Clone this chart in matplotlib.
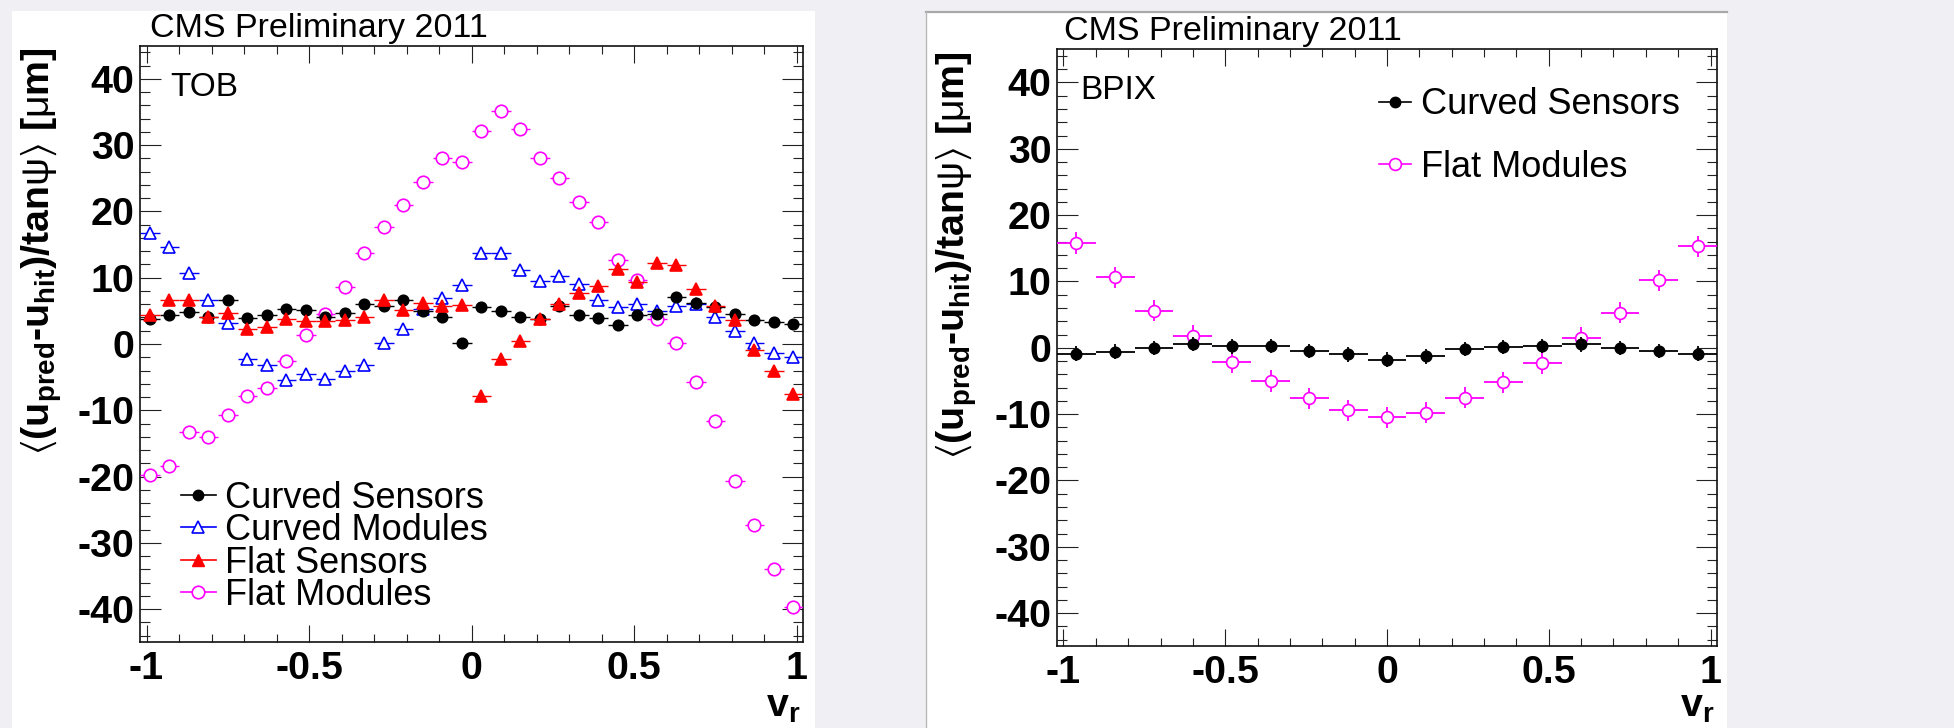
import numpy as np
import matplotlib
matplotlib.use('Agg')
import matplotlib.pyplot as plt
from matplotlib.lines import Line2D
from matplotlib.patches import Rectangle
from matplotlib.ticker import MultipleLocator, FixedLocator, FuncFormatter

plt.rcParams['font.family'] = ['Liberation Sans', 'DejaVu Sans']
plt.rcParams['axes.unicode_minus'] = False
plt.rcParams['mathtext.fontset'] = 'custom'
plt.rcParams['mathtext.rm'] = 'Liberation Sans:bold'
plt.rcParams['mathtext.bf'] = 'Liberation Sans:bold'
plt.rcParams['mathtext.it'] = 'Liberation Sans'
plt.rcParams['mathtext.sf'] = 'Liberation Sans:bold'
plt.rcParams['mathtext.fallback'] = 'stixsans'

# ---------------- data ----------------
# TOB: 34 bins of width 0.06 over [-1.02, 1.02]
tob_bins = np.linspace(-0.99, 0.99, 34)
tob_halfwidth = 0.03
tob_curved_sensors = [3.8, 4.3, 4.8, 4.0, 6.7, 3.9, 4.4, 5.3, 5.1, 4.1, 4.7, 6.0, 5.7, 6.7, 5.0, 4.1, 0.2,
                      5.6, 5.0, 4.0, 3.8, 5.8, 4.4, 3.9, 2.8, 4.4, 4.5, 7.1, 6.2, 5.6, 4.6, 3.6, 3.3, 3.0]
tob_curved_modules = [16.8, 14.6, 10.7, 6.6, 3.2, -2.2, -3.2, -5.4, -4.5, -5.3, -4.1, -3.2, 0.1, 2.2, 5.3, 7.0, 8.9,
                      13.8, 13.7, 11.2, 9.5, 10.2, 9.0, 6.7, 5.6, 6.0, 5.0, 5.8, 6.1, 4.0, 1.9, 0.2, -1.4, -2.0]
tob_flat_sensors = [4.4, 6.6, 6.6, 4.0, 4.7, 2.3, 2.5, 3.8, 3.4, 3.5, 3.6, 4.0, 6.6, 5.1, 6.2, 5.8, 5.9,
                    -7.9, -2.3, 0.4, 3.7, 6.1, 7.7, 8.8, 11.3, 9.4, 12.2, 11.9, 8.3, 5.7, 3.6, -0.9, -4.1, -7.5]
tob_flat_modules = [-19.7, -18.4, -13.3, -14.0, -10.7, -7.9, -6.7, -2.5, 1.4, 4.5, 8.6, 13.7, 17.7, 20.9, 24.5, 28.1, 27.4,
                    32.2, 35.2, 32.5, 28.1, 25.1, 21.4, 18.4, 12.6, 9.7, 3.8, 0.2, -5.8, -11.6, -20.6, -27.3, -33.9, -39.6]

# BPIX: 17 bins of width 0.12 over [-1.02, 1.02]
bpix_bins = np.linspace(-0.96, 0.96, 17)
bpix_halfwidth = 0.06
bpix_curved_sensors = [-0.9, -0.6, 0.0, 0.6, 0.2, 0.3, -0.5, -1.0, -1.8, -1.3, -0.2, 0.1, 0.3, 0.5, 0.0, -0.5, -0.9]
bpix_curved_err = [1.1] * 17
bpix_flat_modules = [15.8, 10.6, 5.6, 1.8, -2.2, -5.0, -7.6, -9.4, -10.5, -9.8, -7.5, -5.2, -2.3, 1.5, 5.3, 10.2, 15.3]
bpix_flat_err = [1.6] * 17

xticks = [-1, -0.5, 0, 0.5, 1]
labels4 = ['Curved Sensors', 'Curved Modules', 'Flat Sensors', 'Flat Modules']
ylabel = r'$\langle$(u$_{\mathrm{pred}}$-u$_{\mathrm{hit}}$)/tan$\psi\rangle$ [$\mu$m]'
xlabel = r'v$_{\mathrm{r}}$'

BLACK, BLUE, RED, MAG = '#000000', '#0000ff', '#ff0000', '#ff00ff'

W, H = 1954, 728
fig = plt.figure(figsize=(W / 100, H / 100), dpi=100)
fig.patch.set_facecolor('#f0eff4')

# white canvases
fig.add_artist(Rectangle((12 / W, 0), (815 - 12) / W, (H - 11) / H, transform=fig.transFigure,
                         facecolor='white', edgecolor='none', zorder=-2))
fig.add_artist(Rectangle((926 / W, 0), (1727 - 926) / W, (H - 12) / H, transform=fig.transFigure,
                         facecolor='white', edgecolor='none', zorder=-2))
fig.add_artist(Line2D([926 / W, 1727 / W], [1 - 12 / H, 1 - 12 / H], transform=fig.transFigure,
                      color='#a8a8a8', lw=1.6, zorder=-1))
fig.add_artist(Line2D([926 / W, 926 / W], [0, 1 - 12 / H], transform=fig.transFigure,
                      color='#b8b8b8', lw=1.0, zorder=-1))

axL = fig.add_axes([140 / W, 1 - 642.3 / H, 663 / W, 596.6 / H])
axR = fig.add_axes([1057 / W, 1 - 646.3 / H, 660 / W, 597 / H])

TICKFS = 28.4
fmt = FuncFormatter(lambda v, p: '%g' % v)


def style(ax, xlab_coords, ylab_coords):
    ax.set_xlim(-1.02, 1.02)
    ax.set_ylim(-45, 45)
    ax.xaxis.set_major_locator(FixedLocator(xticks))
    ax.xaxis.set_minor_locator(MultipleLocator(0.1))
    ax.yaxis.set_major_locator(MultipleLocator(10))
    ax.yaxis.set_minor_locator(MultipleLocator(2))
    ax.xaxis.set_major_formatter(fmt)
    ax.yaxis.set_major_formatter(fmt)
    ax.tick_params(which='both', direction='in', top=True, right=True, color='#222222', width=0.8)
    ax.tick_params(axis='x', which='major', length=12, pad=6.5)
    ax.tick_params(axis='x', which='minor', length=6)
    ax.tick_params(axis='y', which='major', length=15, pad=4)
    ax.tick_params(axis='y', which='minor', length=7)
    for lab in ax.get_xticklabels() + ax.get_yticklabels():
        lab.set_fontsize(TICKFS)
        lab.set_fontweight('bold')
    for sp in ax.spines.values():
        sp.set_linewidth(1.2)
        sp.set_color('#111111')
    ax.set_xlabel(xlabel, fontsize=TICKFS, fontweight='bold')
    ax.xaxis.label.set_horizontalalignment('right')
    ax.xaxis.label.set_verticalalignment('baseline')
    ax.xaxis.set_label_coords(*xlab_coords)
    ax.set_ylabel(ylabel, fontsize=TICKFS, fontweight='bold')
    ax.yaxis.label.set_rotation_mode('default')
    ax.yaxis.label.set_horizontalalignment('center')
    ax.yaxis.label.set_verticalalignment('top')
    ax.yaxis.set_label_coords(*ylab_coords)


def series(ax, x, y, xerr, yerr, color, marker, ms, filled, z, elw=1.0):
    ax.errorbar(x, y, xerr=xerr, yerr=yerr, fmt=marker, color=color, ms=ms,
                mfc=color if filled else 'white', mec=color, mew=1.2,
                elinewidth=elw, capsize=0, zorder=z)


# ---------------- left: TOB ----------------
style(axL, (0.996, -0.1252), (-0.1478, 0.9978))
series(axL, tob_bins, tob_curved_modules, tob_halfwidth, None, BLUE, '^', 8.5, False, 2)
series(axL, tob_bins, tob_flat_modules, tob_halfwidth, None, MAG, 'o', 9.0, False, 3)
series(axL, tob_bins, tob_curved_sensors, tob_halfwidth, None, BLACK, 'o', 7.5, True, 4)
series(axL, tob_bins, tob_flat_sensors, tob_halfwidth, None, RED, '^', 8.0, True, 5)

axL.text(0.0151, 1.0151, 'CMS Preliminary 2011', transform=axL.transAxes, fontsize=24.5,
         ha='left', va='baseline')
axL.text(0.0452, 0.916, 'TOB', transform=axL.transAxes, fontsize=24, ha='left', va='baseline')

hL = [Line2D([], [], color=BLACK, marker='o', ms=7.5, mfc=BLACK, lw=1.2),
      Line2D([], [], color=BLUE, marker='^', ms=8.5, mfc='white', mew=1.2, lw=1.2),
      Line2D([], [], color=RED, marker='^', ms=8.0, mfc=RED, lw=1.2),
      Line2D([], [], color=MAG, marker='o', ms=9.0, mfc='white', mew=1.2, lw=1.2)]
axL.legend(hL, labels4, loc='center left', bbox_to_anchor=(0.0614, 0.160), frameon=False,
           fontsize=26, handlelength=0.98, handletextpad=0.25, labelspacing=-0.07,
           borderpad=0, borderaxespad=0)

# ---------------- right: BPIX ----------------
style(axR, (0.997, -0.1183), (-0.1515, 0.9971))
series(axR, bpix_bins, bpix_flat_modules, bpix_halfwidth, bpix_flat_err, MAG, 'o', 8.5, False, 3, elw=1.3)
series(axR, bpix_bins, bpix_curved_sensors, bpix_halfwidth, bpix_curved_err, BLACK, 'o', 7.5, True, 4, elw=1.3)

axR.text(0.0106, 1.0164, 'CMS Preliminary 2011', transform=axR.transAxes, fontsize=24.5,
         ha='left', va='baseline')
axR.text(0.0348, 0.917, 'BPIX', transform=axR.transAxes, fontsize=24, ha='left', va='baseline')

hR = [Line2D([], [], color=BLACK, marker='o', ms=7.5, mfc=BLACK, lw=1.2),
      Line2D([], [], color=MAG, marker='o', ms=8.5, mfc='white', mew=1.2, lw=1.2)]
axR.legend(hR, ['Curved Sensors', 'Flat Modules'], loc='center left', bbox_to_anchor=(0.4879, 0.855),
           frameon=False, fontsize=26, handlelength=0.89, handletextpad=0.28, labelspacing=0.76,
           borderpad=0, borderaxespad=0)

fig.savefig('out.png', dpi=100, facecolor=fig.get_facecolor())
